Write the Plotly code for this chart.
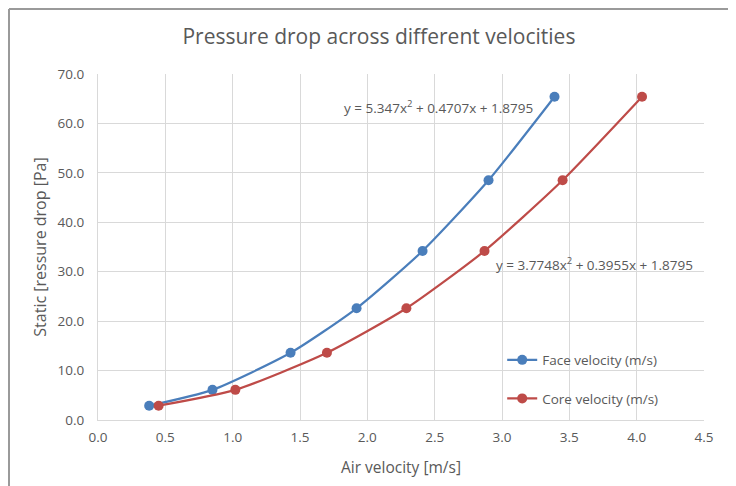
import plotly.graph_objects as go

face_x = [0.38, 0.85, 1.43, 1.92, 2.41, 2.90, 3.39]
core_x = [0.45, 1.02, 1.70, 2.29, 2.87, 3.45, 4.04]
pressure = [2.9, 6.1, 13.6, 22.6, 34.2, 48.5, 65.4]
face_name = "Face velocity (m/s)"
core_name = "Core velocity (m/s)"
face_eq = "y = 5.347x<sup>2</sup> + 0.4707x + 1.8795"
core_eq = "y = 3.7748x<sup>2</sup> + 0.3955x + 1.8795"

blue = "#4a7ebb"
red = "#be4b48"
txt = "#595959"
grid = "#d9d9d9"
font = "Open Sans"

fig = go.Figure()
fig.add_trace(go.Scatter(x=face_x, y=pressure, name=face_name, mode="lines+markers",
                         line=dict(color=blue, width=2.2, shape="spline", smoothing=0.6),
                         marker=dict(color=blue, size=10), legendgroup="a"))
fig.add_trace(go.Scatter(x=core_x, y=pressure, name=core_name, mode="lines+markers",
                         line=dict(color=red, width=2.2, shape="spline", smoothing=0.6),
                         marker=dict(color=red, size=10), legendgroup="b"))

fig.add_annotation(x=2.53, y=63.4, xref="x", yref="y", text=face_eq, showarrow=False,
                   font=dict(family=font, size=13.5, color=txt))
fig.add_annotation(x=3.69, y=31.6, xref="x", yref="y", text=core_eq, showarrow=False,
                   font=dict(family=font, size=13.5, color=txt))

# chart border
fig.add_shape(type="line", xref="paper", yref="paper", x0=-89/606, x1=-89/606, y0=-0.3, y1=1 + 65/346,
              line=dict(color="#9a9a9a", width=2))
fig.add_shape(type="line", xref="paper", yref="paper", x0=-89/606, x1=1.2, y0=1 + 65/346, y1=1 + 65/346,
              line=dict(color="#9a9a9a", width=2))

fig.update_layout(
    width=736, height=486,
    margin=dict(l=90, r=40, t=66, b=74, autoexpand=False),
    paper_bgcolor="white", plot_bgcolor="white",
    title=dict(text="Pressure drop across different velocities", x=0.504, xanchor="center",
               y=0.942, yanchor="middle", font=dict(family=font, size=21, color=txt)),
    font=dict(family=font, color=txt),
    showlegend=True,
    legend=dict(x=0.667, y=0.218, xanchor="left", yanchor="top", bgcolor="rgba(0,0,0,0)",
                font=dict(family=font, size=13.5, color=txt), tracegroupgap=18,
                traceorder="grouped", itemwidth=30),
)
fig.update_xaxes(range=[0, 4.5], dtick=0.5, tick0=0, tickformat=".1f", showgrid=True, gridcolor=grid,
                 showline=True, linecolor=grid, linewidth=1, zeroline=False, ticks="", automargin=False,
                 tickfont=dict(family=font, size=13.5, color=txt), ticklabelstandoff=5,
                 title=dict(text="Air velocity [m/s]", font=dict(family=font, size=15.5, color=txt), standoff=16))
fig.update_yaxes(range=[0, 70], dtick=10, tickformat=".1f", showgrid=True, gridcolor=grid,
                 showline=True, linecolor=grid, linewidth=1, zeroline=False, ticks="", automargin=False,
                 tickfont=dict(family=font, size=13.5, color=txt), ticklabelstandoff=10,
                 title=dict(text="Static [ressure drop [Pa]", font=dict(family=font, size=16, color=txt), standoff=6))

fig.write_html("out.html")
